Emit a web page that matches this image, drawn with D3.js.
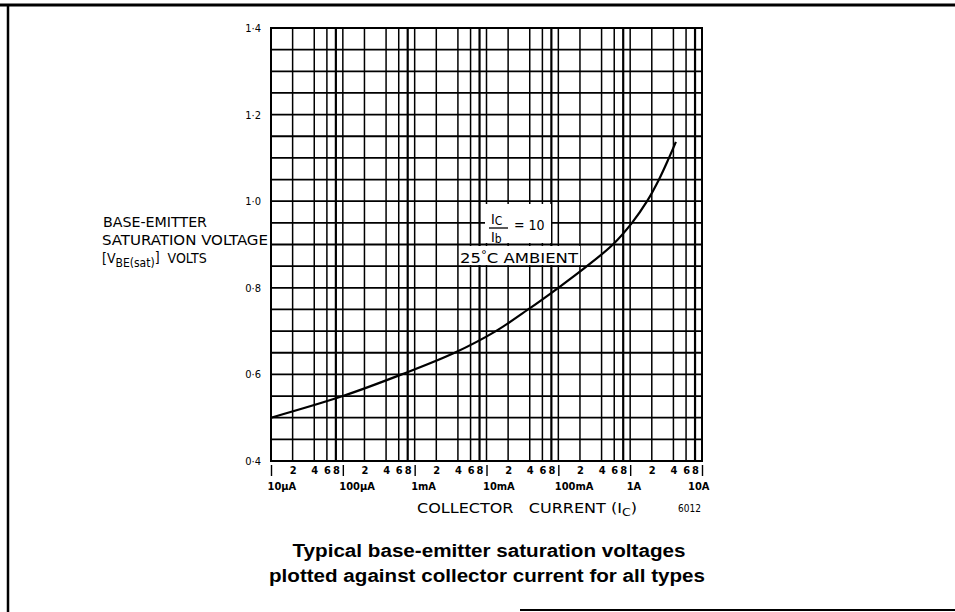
<!DOCTYPE html>
<html>
<head>
<meta charset="utf-8">
<script src="https://cdn.jsdelivr.net/npm/d3@7"></script>
<style>
  body { margin: 0; background: #fff; }
  svg text { fill: #000; }
</style>
</head>
<body>
<div id="chart"></div>
<script>
// Data (Ic in amps, Vbe(sat) in volts)
var currents = [1e-5, 1e-4, 6.6e-4, 3.6e-3, 1.35e-2, 3.8e-2, 0.1, 0.25, 0.575, 1.06, 1.72, 2.52, 3.47, 4.33];
var vbeSat   = [0.50, 0.55, 0.60, 0.65, 0.70, 0.75, 0.80, 0.85, 0.90, 0.95, 1.00, 1.05, 1.10, 1.137];

var decades = [1e-5, 1e-4, 1e-3, 1e-2, 1e-1, 1, 10];
var decadeLabels = ["10\u00b5A", "100\u00b5A", "1mA", "10mA", "100mA", "1A", "10A"];
var minorSteps = [2, 4, 6, 8];
var yTicks = [0.4, 0.6, 0.8, 1.0, 1.2, 1.4];

var svgWidth = 955, svgHeight = 612;
var narrow = "'DejaVu Sans Condensed', 'DejaVu Sans', sans-serif";

var svg = d3.select("#chart").append("svg")
  .attr("width", svgWidth)
  .attr("height", svgHeight);

// page frame (scan edges)
svg.append("line").attr("x1", 0).attr("x2", svgWidth).attr("y1", 5).attr("y2", 5)
  .attr("stroke", "#000").attr("stroke-width", 3);
svg.append("line").attr("x1", 8).attr("x2", 8).attr("y1", 5).attr("y2", svgHeight)
  .attr("stroke", "#000").attr("stroke-width", 2.5);
svg.append("line").attr("x1", 520).attr("x2", svgWidth).attr("y1", 610).attr("y2", 610)
  .attr("stroke", "#000").attr("stroke-width", 2);

// scales
var x = d3.scaleLog().domain([1e-5, 10]).range([271, 702]);
var y = d3.scaleLinear().domain([0.4, 1.4]).range([461, 28]);

// grid
var xGrid = [];
decades.slice(0, 6).forEach(function(d) {
  xGrid.push(d);
  minorSteps.forEach(function(m) { xGrid.push(d * m); });
});
xGrid.push(10);
var yGrid = d3.range(0, 21).map(function(i) { return 0.4 + i * 0.05; });

var grid = svg.append("g").attr("stroke", "#000");
grid.selectAll(".vx").data(xGrid).enter().append("line")
  .attr("x1", d => x(d)).attr("x2", d => x(d))
  .attr("y1", y(1.4)).attr("y2", y(0.4))
  .attr("stroke-width", (d, i) => (i % 5 === 4 ? 2.2 : 1.5));
grid.selectAll(".hy").data(yGrid).enter().append("line")
  .attr("x1", x(1e-5)).attr("x2", x(10))
  .attr("y1", d => y(d)).attr("y2", d => y(d))
  .attr("stroke-width", 1.8);

// plot border
svg.append("rect")
  .attr("x", x(1e-5)).attr("y", y(1.4))
  .attr("width", x(10) - x(1e-5)).attr("height", y(0.4) - y(1.4))
  .attr("fill", "none").attr("stroke", "#000").attr("stroke-width", 2);

// curve
var pts = currents.map((c, i) => [c, vbeSat[i]]);
svg.append("path")
  .datum(pts)
  .attr("fill", "none")
  .attr("stroke", "#000")
  .attr("stroke-width", 2.2)
  .attr("d", d3.line().x(d => x(d[0])).y(d => y(d[1])).curve(d3.curveCatmullRom.alpha(0.5)));

// y axis labels
var yAxis = svg.append("g")
  .attr("transform", "translate(" + x(1e-5) + ",0)")
  .call(d3.axisLeft(y).tickValues(yTicks).tickSize(0).tickPadding(10)
    .tickFormat(d => d.toFixed(1).replace(".", "\u00b7")));
yAxis.select(".domain").remove();
yAxis.selectAll("text").style("font-family", narrow).style("font-size", "11px");

// x axis: minor digits
var minorVals = [];
decades.slice(0, 6).forEach(function(d) { minorSteps.forEach(function(m) { minorVals.push(d * m); }); });
var xMinor = svg.append("g")
  .attr("transform", "translate(0," + y(0.4) + ")")
  .call(d3.axisBottom(x).tickValues(minorVals).tickSize(0).tickPadding(5)
    .tickFormat(d => String(Math.round(d / Math.pow(10, Math.floor(Math.log10(d) + 1e-9))))));
xMinor.select(".domain").remove();
xMinor.selectAll("text").style("font-family", narrow).style("font-size", "11px").style("font-weight", "bold");

// decade marks "|" and labels
var xMajor = svg.append("g")
  .attr("transform", "translate(0," + (y(0.4) + 4) + ")")
  .call(d3.axisBottom(x).tickValues(decades).tickSize(11).tickPadding(6)
    .tickFormat((d, i) => decadeLabels[i]));
xMajor.select(".domain").remove();
xMajor.selectAll("line").attr("stroke-width", 1.4);
xMajor.selectAll("text")
  .style("font-family", narrow).style("font-size", "11px").style("font-weight", "bold")
  .attr("text-anchor", (d, i) => (i === decades.length - 1 ? "end" : "start"))
  .attr("dx", (d, i) => (i === decades.length - 1 ? 7 : -4));

// x title
svg.append("text")
  .attr("x", 417).attr("y", 513)
  .style("font-family", narrow).style("font-size", "14px")
  .attr("textLength", 220).attr("lengthAdjust", "spacingAndGlyphs")
  .html("COLLECTOR&#160;&#160;&#160;CURRENT (I<tspan font-size='11' dy='3'>C</tspan><tspan dy='-3'>)</tspan>");
svg.append("text")
  .attr("x", 678).attr("y", 512)
  .style("font-family", narrow).style("font-size", "10px")
  .text("6012");

// y title
var yt = svg.append("g").style("font-family", narrow).style("font-size", "14px");
yt.append("text").attr("x", 103).attr("y", 227)
  .attr("textLength", 104).attr("lengthAdjust", "spacingAndGlyphs").text("BASE-EMITTER");
yt.append("text").attr("x", 102).attr("y", 245)
  .attr("textLength", 166).attr("lengthAdjust", "spacingAndGlyphs").text("SATURATION VOLTAGE");
yt.append("text").attr("x", 102).attr("y", 263)
  .html("[V<tspan font-size='12' dy='4'>BE(sat)</tspan><tspan dy='-5'>]</tspan><tspan dy='1'>&#160;&#160;VOLTS</tspan>");

// annotation
svg.append("rect").attr("x", 485).attr("y", 204).attr("width", 66).attr("height", 39).attr("fill", "#fff");
svg.append("rect").attr("x", 459).attr("y", 246).attr("width", 121).attr("height", 19).attr("fill", "#fff");
var an = svg.append("g").style("font-family", narrow).style("font-size", "14px");
an.append("text").attr("x", 491).attr("y", 224)
  .html("I<tspan font-size='12' dy='1'>C</tspan>");
an.append("line").attr("x1", 489).attr("x2", 508).attr("y1", 228).attr("y2", 228)
  .attr("stroke", "#000").attr("stroke-width", 1.3);
an.append("text").attr("x", 491).attr("y", 242)
  .html("I<tspan font-size='12' dy='1'>b</tspan>");
an.append("text").attr("x", 514).attr("y", 230).text("= 10");
an.append("text").attr("x", 460).attr("y", 263)
  .attr("textLength", 118).attr("lengthAdjust", "spacingAndGlyphs")
  .html("25<tspan dy='-5' font-size='10'>\u00b0</tspan><tspan dy='5'>C AMBIENT</tspan>");

// caption
var cap = svg.append("g")
  .style("font-family", "'Liberation Sans', Arial, sans-serif")
  .style("font-size", "18px").style("font-weight", "bold")
  .attr("text-anchor", "middle");
cap.append("text").attr("x", 489).attr("y", 557)
  .attr("textLength", 393).attr("lengthAdjust", "spacingAndGlyphs")
  .text("Typical base-emitter saturation voltages");
cap.append("text").attr("x", 487).attr("y", 582)
  .attr("textLength", 436).attr("lengthAdjust", "spacingAndGlyphs")
  .text("plotted against collector current for all types");
</script>
</body>
</html>
